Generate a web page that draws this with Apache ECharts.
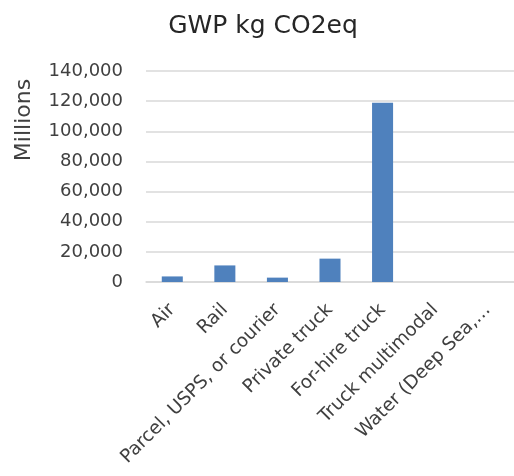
<!DOCTYPE html>
<html><head><meta charset="utf-8">
<script src="https://cdn.jsdelivr.net/npm/echarts@6/dist/echarts.min.js"></script>
<style>html,body{margin:0;padding:0;background:#fff}#c{width:514px;height:476px}</style>
</head><body><div id="c"></div>
<script>
const categories = ["Air", "Rail", "Parcel, USPS, or courier", "Private truck", "For-hire truck", "Truck multimodal", "Water (Deep Sea,…"];
const values = [3700, 11000, 2900, 15500, 118900, 0, 0];
const yTicks = [0, 20000, 40000, 60000, 80000, 100000, 120000, 140000];
const titleText = "GWP kg CO2eq";
const yAxisTitle = "Millions";

const FONT = "DejaVu Sans";
const chart = echarts.init(document.getElementById('c'), null, {renderer: 'canvas'});
chart.setOption({
  animation: false,
  title: {
    text: titleText, left: 258, top: 9, textAlign: 'center',
    textStyle: {fontFamily: FONT, fontSize: 25, fontWeight: 'normal', color: '#262626'}
  },
  grid: {left: 146, right: 0, top: 71, bottom: 194},
  xAxis: {
    type: 'category', data: categories,
    axisLine: {lineStyle: {color: '#d9d9d9', width: 1.5}},
    axisTick: {show: false},
    axisLabel: {rotate: 45, interval: 0, margin: 25, fontFamily: FONT, fontSize: 18.5, color: '#404040'}
  },
  yAxis: {
    type: 'value', min: yTicks[0], max: yTicks[yTicks.length - 1], interval: yTicks[1] - yTicks[0],
    axisLine: {show: false}, axisTick: {show: false},
    splitLine: {lineStyle: {color: '#d9d9d9', width: 1.5}},
    axisLabel: {margin: 23, fontFamily: FONT, fontSize: 18, color: '#404040',
      formatter: v => v.toLocaleString('en-US')}
  },
  graphic: [{
    type: 'text', x: 24, y: 120, rotation: Math.PI / 2,
    style: {text: yAxisTitle, fontFamily: FONT, fontSize: 22, fill: '#404040', align: 'center', verticalAlign: 'middle'}
  }],
  series: [{
    type: 'bar', data: values, barWidth: '40%',
    itemStyle: {color: '#4f81bd'}
  }]
});
</script></body></html>
